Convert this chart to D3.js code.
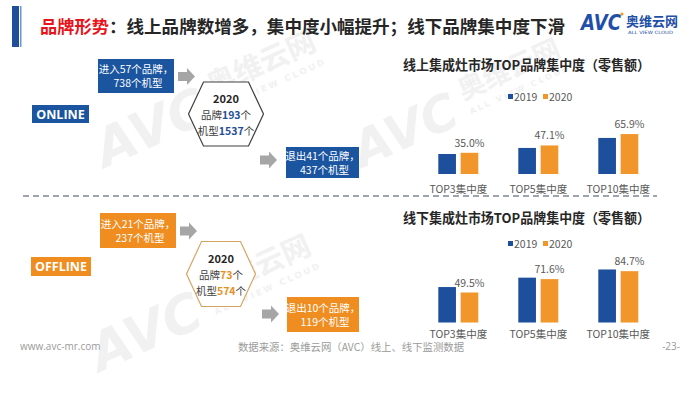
<!DOCTYPE html>
<html>
<head>
<meta charset="utf-8">
<script src="https://cdn.jsdelivr.net/npm/d3@7"></script>
<style>
  body { margin: 0; background: #fff; }
  svg { display: block; }
  text { font-family: "Noto Sans CJK SC", "Noto Sans", sans-serif; }
</style>
</head>
<body>
<div id="chart"></div>
<script>
// chart data
const categories = ["TOP3集中度", "TOP5集中度", "TOP10集中度"];
const years = ["2019", "2020"];
const online2019 = [33.0, 43.0, 59.5];
const online2020 = [35.0, 47.1, 65.9];
const offline2019 = [58.5, 74.0, 87.5];
const offline2020 = [49.5, 71.6, 84.7];

// diagram texts
const onlineIn = ["进入57个品牌，", "738个机型"];
const onlineOut = ["退出41个品牌，", "437个机型"];
const onlineBrands = "193", onlineModels = "1537";
const offlineIn = ["进入21个品牌，", "237个机型"];
const offlineOut = ["退出10个品牌，", "119个机型"];
const offlineBrands = "73", offlineModels = "574";

var width = 700, height = 394;
var blue = "#1b55a0", orange = "#ef8d20";
var barBlue = "#1d4f9c", barOrange = "#f0962a";
var gray = "#595959";

var svg = d3.select("#chart").append("svg")
  .attr("width", width)
  .attr("height", height);

/* watermarks */
function watermark(x, y, s) {
  var g = svg.append("g")
    .attr("transform", `translate(${x},${y}) rotate(-24) scale(${s})`)
    .style("fill", "#e9e9e9")
    .style("opacity", 0.6);
  g.append("text").attr("x", 0).attr("y", 0)
    .style("font-family", "DejaVu Sans").style("font-weight", "bold")
    .style("font-style", "italic").style("font-size", "62px").text("AVC");
  g.append("text").attr("x", 150).attr("y", -26)
    .style("font-weight", "bold").style("font-size", "34px").text("奥维云网");
  g.append("text").attr("x", 152).attr("y", -6)
    .style("font-family", "DejaVu Sans").style("font-weight", "bold")
    .style("font-size", "10px").style("letter-spacing", "3px").text("ALL VIEW CLOUD");
}
watermark(105, 168, 0.85);
watermark(362, 168, 0.8);
watermark(100, 372, 0.85);

/* header */
svg.append("rect").attr("x", 12).attr("y", 6).attr("width", 7).attr("height", 41).attr("fill", "#1f4e9a");
svg.append("rect").attr("x", 20).attr("y", 6).attr("width", 1.5).attr("height", 41).attr("fill", "#6f95cf");

svg.append("text")
  .attr("x", 40).attr("y", 33)
  .attr("textLength", 69).attr("lengthAdjust", "spacingAndGlyphs")
  .style("font-size", "17.5px").style("font-weight", "bold")
  .style("fill", "#e8141b")
  .text("品牌形势");
svg.append("text")
  .attr("x", 109).attr("y", 33)
  .attr("textLength", 456).attr("lengthAdjust", "spacingAndGlyphs")
  .style("font-size", "17.5px").style("font-weight", "bold")
  .style("fill", "#262626")
  .text("：线上品牌数增多，集中度小幅提升；线下品牌集中度下滑");

// logo
svg.append("text")
  .attr("x", 581).attr("y", 30)
  .attr("textLength", 40).attr("lengthAdjust", "spacingAndGlyphs")
  .style("font-family", "DejaVu Sans").style("font-weight", "bold").style("font-style", "italic")
  .style("font-size", "21px").style("fill", "#1f4fa8")
  .text("AVC");
svg.append("circle").attr("cx", 622).attr("cy", 14).attr("r", 1.6).attr("fill", "#f39a1e");
svg.append("text")
  .attr("x", 626).attr("y", 26)
  .attr("textLength", 52).attr("lengthAdjust", "spacingAndGlyphs")
  .style("font-weight", "bold").style("font-size", "13px").style("fill", "#1f4fa8")
  .text("奥维云网");
svg.append("text")
  .attr("x", 628).attr("y", 34)
  .attr("textLength", 45).attr("lengthAdjust", "spacingAndGlyphs")
  .style("font-family", "DejaVu Sans").style("font-size", "4.5px").style("fill", "#1f4fa8")
  .text("ALL VIEW CLOUD");

/* dashed separator */
svg.append("line")
  .attr("x1", 23).attr("x2", 657).attr("y1", 196).attr("y2", 196)
  .style("stroke", "#7d8795").style("stroke-width", 1.5)
  .style("stroke-dasharray", "6,4");

/* left diagrams */
function arrow(x, cy) {
  var p = d3.path();
  p.moveTo(x, cy - 4.5);
  p.lineTo(x + 9, cy - 4.5);
  p.lineTo(x + 9, cy - 8.5);
  p.lineTo(x + 17, cy);
  p.lineTo(x + 9, cy + 8.5);
  p.lineTo(x + 9, cy + 4.5);
  p.lineTo(x, cy + 4.5);
  p.closePath();
  svg.append("path").attr("d", p.toString()).attr("fill", "#a6a6a6");
}

function textBox(x, y, w, h, color, lines) {
  svg.append("rect").attr("x", x).attr("y", y).attr("width", w).attr("height", h).attr("fill", color);
  lines.forEach(function(t, i) {
    svg.append("text")
      .attr("x", x + w / 2 + (i == 0 ? 0 : 2))
      .attr("y", y + h / 2 + (i == 0 ? -3 : 11))
      .attr("text-anchor", "middle")
      .style("font-size", "10.5px").style("fill", "#fff")
      .text(t);
  });
}

function hexagon(cx, cy, w, h, stroke, numColor, brands, models) {
  var inset = 15;
  var pts = [[cx - w / 2, cy], [cx - w / 2 + inset, cy - h / 2], [cx + w / 2 - inset, cy - h / 2],
             [cx + w / 2, cy], [cx + w / 2 - inset, cy + h / 2], [cx - w / 2 + inset, cy + h / 2]];
  svg.append("path")
    .attr("d", d3.line()(pts) + "Z")
    .attr("fill", "#fff").attr("stroke", stroke).attr("stroke-width", 1.2);
  svg.append("text").attr("x", cx).attr("y", cy - 11).attr("text-anchor", "middle")
    .style("font-size", "11px").style("font-weight", "bold").style("fill", "#262626").text("2020");
  var t1 = svg.append("text").attr("x", cx).attr("y", cy + 5).attr("text-anchor", "middle")
    .style("font-size", "10.5px").style("fill", "#404040");
  t1.append("tspan").text("品牌");
  t1.append("tspan").style("font-weight", "bold").style("fill", numColor).text(brands);
  t1.append("tspan").text("个");
  var t2 = svg.append("text").attr("x", cx).attr("y", cy + 21).attr("text-anchor", "middle")
    .style("font-size", "10.5px").style("fill", "#404040");
  t2.append("tspan").text("机型");
  t2.append("tspan").style("font-weight", "bold").style("fill", numColor).text(models);
  t2.append("tspan").text("个");
}

function label(x, y, w, h, color, t) {
  svg.append("rect").attr("x", x).attr("y", y).attr("width", w).attr("height", h).attr("fill", color);
  svg.append("text").attr("x", x + w / 2).attr("y", y + h / 2 + 4.5).attr("text-anchor", "middle")
    .style("font-family", "'Open Sans', sans-serif").style("font-weight", "bold")
    .style("font-size", "12.5px").style("fill", "#fff").text(t);
}

// online
label(32, 105, 57, 18, blue, "ONLINE");
textBox(98, 59, 76, 34, blue, onlineIn);
arrow(178, 76.5);
hexagon(226, 114, 75, 64, "#3f3f3f", "#1f4e9a", onlineBrands, onlineModels);
arrow(260, 160);
textBox(286, 147, 73, 31, blue, onlineOut);

// offline
label(31, 257, 60, 19, orange, "OFFLINE");
textBox(100, 213, 76, 35, orange, offlineIn);
arrow(180, 231);
hexagon(221, 274, 69, 65, "#d7a560", "#e8901f", offlineBrands, offlineModels);
arrow(262, 314);
textBox(287, 297, 72, 35, orange, offlineOut);

/* bar charts */
function drawBars(title, titleY, legendY, baseline, pad, v2019, v2020) {
  var data = categories.map((c, i) => ({ cat: c, "2019": v2019[i], "2020": v2020[i] }));

  var x0 = d3.scaleBand().domain(categories).range([418.3, 658.3])
    .paddingInner(0.5).paddingOuter(0.25);
  var x1 = d3.scaleBand().domain(years).range([0, x0.bandwidth()]).paddingInner(0.21);
  var y = d3.scaleLinear().domain([0, 100]).range([baseline, baseline - 60.6]);
  var color = d3.scaleOrdinal().domain(years).range([barBlue, barOrange]);

  svg.append("text")
    .attr("x", 403).attr("y", titleY)
    .attr("textLength", 247).attr("lengthAdjust", "spacingAndGlyphs")
    .style("font-size", "13.5px").style("font-weight", "bold").style("fill", "#262626")
    .text(title);

  // legend
  var lg = svg.append("g").attr("transform", `translate(508, ${legendY})`);
  years.forEach(function(yr, i) {
    lg.append("rect").attr("x", i * 35).attr("y", -3).attr("width", 5).attr("height", 5).attr("fill", color(yr));
    lg.append("text").attr("x", i * 35 + 6).attr("y", 4)
      .style("font-size", "10.5px").style("fill", gray).text(yr);
  });

  var groups = svg.append("g").selectAll("g")
    .data(data).enter().append("g")
    .attr("transform", d => `translate(${x0(d.cat)},0)`);

  groups.selectAll("rect")
    .data(d => years.map(k => ({ key: k, value: d[k] })))
    .enter().append("rect")
    .attr("x", d => x1(d.key))
    .attr("y", d => y(d.value))
    .attr("width", x1.bandwidth())
    .attr("height", d => baseline - y(d.value))
    .attr("fill", d => color(d.key));

  // only 2020 values are labelled
  groups.append("text")
    .attr("x", x1("2020") + x1.bandwidth() / 2)
    .attr("y", d => y(d["2020"]) - 6)
    .attr("text-anchor", "middle")
    .style("font-size", "10.5px").style("fill", gray)
    .text(d => d["2020"].toFixed(1) + "%");

  var xAxis = d3.axisBottom(x0).tickSize(0).tickPadding(pad);
  var ax = svg.append("g")
    .attr("transform", `translate(0, ${baseline})`)
    .call(xAxis);
  ax.select(".domain").remove();
  ax.selectAll("text")
    .style("font-family", "'Noto Sans CJK SC', sans-serif")
    .style("font-size", "10.5px").style("fill", gray);
}

drawBars("线上集成灶市场TOP品牌集中度（零售额）", 70, 97, 174, 12, online2019, online2020);
drawBars("线下集成灶市场TOP品牌集中度（零售额）", 223, 244, 322.5, 8.5, offline2019, offline2020);

/* footer */
svg.append("text").attr("x", 20).attr("y", 350)
  .style("font-family", "'Open Sans', sans-serif").style("font-size", "10px").style("fill", "#9a9a9a")
  .text("www.avc-mr.com");
svg.append("text").attr("x", 238).attr("y", 350.5)
  .attr("textLength", 226).attr("lengthAdjust", "spacingAndGlyphs")
  .style("font-size", "10px").style("fill", "#9a9a9a")
  .text("数据来源：奥维云网（AVC）线上、线下监测数据");
svg.append("text").attr("x", 680).attr("y", 350).attr("text-anchor", "end")
  .style("font-family", "'Open Sans', sans-serif").style("font-size", "10px").style("fill", "#9a9a9a")
  .text("-23-");
</script>
</body>
</html>
